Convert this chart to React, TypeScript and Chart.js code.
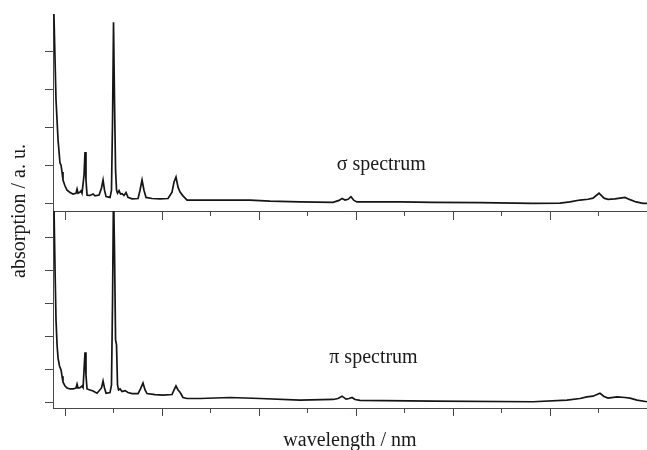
import React, { useEffect, useRef } from "react";
import { Chart, registerables } from "chart.js";

Chart.register(...registerables);

// wavelength axis (nm), tick marks
const majorTicks = [300, 400, 500, 600, 700, 800, 900];
const minorTicks = [350, 450, 550, 650, 750, 850];
const topYTicks = [0, 1, 2, 3, 4];
const botYTicks = [0, 1, 2, 3, 4, 5];

// σ spectrum
const sigmaWavelength = [
  287.6, 290.7, 292.8, 294.8, 295.9, 296.9, 297.9, 300, 302.1, 305.2, 308.2, 311.3, 312.4, 313.4,
  315.5, 316.5, 317.5, 319.6, 320.6, 321.6, 322.7, 325.8, 328.9, 330.9, 335.1, 337.6, 339.2, 340.7,
  342.3, 346.4, 347.9, 349, 350, 351, 352.1, 353.1, 354.1, 355.7, 357.2, 358.8, 360.8, 362.9, 364.9,
  369.1, 375.3, 377.3, 379.4, 381.4, 383.5, 389.7, 397.9, 406.2, 410.3, 412.4, 414.4, 416.5, 418.6,
  421.6, 425.8, 439.2, 470.1, 490.7, 511.3, 542.3, 576.3, 582.5, 585.6, 588.7, 591.8, 594.8, 597.9,
  601, 645.4, 679.4, 727.8, 782.5, 810.3, 820.6, 830.9, 839.2, 844.3, 850.5, 855.7, 859.8, 867,
  872.2, 877.3, 882.5, 888.7, 895.9, 900,
];
const sigmaValues = [
  6.0, 2.73, 1.67, 1.06, 1.0, 0.82, 0.61, 0.45, 0.34, 0.28, 0.24, 0.26, 0.37, 0.26,
  0.29, 0.32, 0.26, 0.74, 1.35, 0.61, 0.21, 0.2, 0.24, 0.19, 0.21, 0.4, 0.61, 0.34,
  0.17, 0.15, 0.34, 2.2, 4.78, 2.73, 0.87, 0.34, 0.26, 0.33, 0.24, 0.25, 0.2, 0.28, 0.15,
  0.11, 0.12, 0.34, 0.61, 0.34, 0.15, 0.12, 0.11, 0.12, 0.29, 0.56, 0.69, 0.42, 0.29,
  0.19, 0.08, 0.08, 0.08, 0.08, 0.05, 0.03, 0.02, 0.07, 0.12, 0.08, 0.1, 0.17, 0.07,
  0.03, 0.03, 0.02, 0.01, -0.01, 0.0, 0.03, 0.08, 0.1, 0.13, 0.26, 0.13, 0.1, 0.11,
  0.13, 0.15, 0.09, 0.03, -0.01, -0.01,
];

// π spectrum
const piWavelength = [
  287.6, 288.7, 289.7, 290.7, 291.8, 292.8, 294.3, 295.9, 296.9, 297.9, 300, 302.1, 305.2, 308.2,
  311.3, 312.4, 313.4, 315.5, 317.5, 318.6, 319.6, 320.6, 321.6, 322.7, 325.8, 328.9, 333, 337.6,
  339.2, 340.7, 342.3, 346.4, 347.9, 349, 350, 351, 352.1, 353.1, 354.1, 355.2, 356.7, 358.8,
  361.9, 364.9, 369.1, 375.3, 377.8, 380.4, 382.5, 384.5, 392.8, 401, 410.3, 412.4, 414.4, 416.5,
  418.6, 421.6, 425.8, 439.2, 470.1, 501, 542.3, 576.3, 581.4, 585.6, 589.7, 592.8, 595.9, 599,
  604.1, 679.4, 782.5, 817.5, 830.9, 838.1, 844.3, 851.5, 855.7, 859.8, 869.1, 877.3, 882.5,
  889.7, 900,
];
const piValues = [
  7.0, 5.79, 4.02, 2.5, 1.74, 1.34, 1.1, 0.98, 0.79, 0.61, 0.49, 0.43, 0.4, 0.4,
  0.43, 0.55, 0.43, 0.44, 0.49, 0.44, 0.98, 1.52, 0.82, 0.4, 0.37, 0.34, 0.27, 0.43,
  0.64, 0.43, 0.27, 0.29, 0.52, 3.11, 6.5, 4.63, 1.89, 1.74, 0.52, 0.37, 0.4, 0.32,
  0.35, 0.29, 0.26, 0.26, 0.4, 0.58, 0.37, 0.26, 0.23, 0.21, 0.23, 0.37, 0.49, 0.37,
  0.3, 0.14, 0.11, 0.11, 0.14, 0.11, 0.06, 0.08, 0.11, 0.18, 0.09, 0.11, 0.14, 0.08,
  0.05, 0.03, 0.01, 0.06, 0.11, 0.16, 0.18, 0.27, 0.17, 0.12, 0.16, 0.14, 0.12,
  0.06, 0.01,
];

const X_MIN = 287.6;
const X_MAX = 900;
const AXIS_COLOR = "#484848";
const TEXT_COLOR = "#1a1a1a";
const LINE_COLOR = "#151515";
const FONT_FAMILY = "'Liberation Serif', 'Times New Roman', serif";

const setTicks = (values: number[]) => (scale: any) => {
  scale.ticks = values.map((v) => ({ value: v }));
};

const hiddenXAxis = (pos: any, ticks: number[], len: number) => ({
  type: "linear",
  position: pos,
  min: X_MIN,
  max: X_MAX,
  afterBuildTicks: setTicks(ticks),
  ticks: { display: false },
  grid: { drawOnChartArea: false, drawTicks: true, tickLength: len, color: AXIS_COLOR, tickColor: AXIS_COLOR },
  border: { display: true, color: AXIS_COLOR, width: 1 },
});

const labelPlugin = {
  id: "spectrumLabels",
  afterDraw(chart: any) {
    const { ctx, scales } = chart;
    ctx.save();
    ctx.fillStyle = TEXT_COLOR;
    ctx.font = `20px ${FONT_FAMILY}`;
    ctx.textAlign = "center";
    ctx.textBaseline = "middle";
    ctx.fillText("σ spectrum", scales.x.getPixelForValue(626), scales.yTop.getPixelForValue(1.0));
    ctx.fillText("π spectrum", scales.x.getPixelForValue(618), scales.yBot.getPixelForValue(1.34));
    ctx.restore();
  },
};

export default function App() {
  const canvasRef = useRef<HTMLCanvasElement | null>(null);

  useEffect(() => {
    document.body.style.margin = "0";
    const canvas = canvasRef.current;
    if (!canvas) return;
    const sigmaData = sigmaWavelength.map((x, i) => ({ x, y: sigmaValues[i] }));
    const piData = piWavelength.map((x, i) => ({ x, y: piValues[i] }));

    const chart = new Chart(canvas, {
      type: "line",
      data: {
        datasets: [
          {
            label: "σ spectrum",
            data: sigmaData,
            xAxisID: "x",
            yAxisID: "yTop",
            borderColor: LINE_COLOR,
            borderWidth: 1.7,
            pointRadius: 0,
            tension: 0,
          },
          {
            label: "π spectrum",
            data: piData,
            xAxisID: "x",
            yAxisID: "yBot",
            borderColor: LINE_COLOR,
            borderWidth: 1.7,
            pointRadius: 0,
            tension: 0,
          },
        ],
      },
      plugins: [labelPlugin],
      options: {
        responsive: false,
        animation: false,
        events: [],
        layout: { padding: { top: 14, left: 0, right: 0, bottom: -1 } },
        plugins: { legend: { display: false }, tooltip: { enabled: false } },
        scales: {
          x: {
            ...hiddenXAxis("bottom", majorTicks, 8),
            title: {
              display: true,
              text: "wavelength / nm",
              color: TEXT_COLOR,
              font: { family: FONT_FAMILY, size: 20, lineHeight: 1.0 },
              padding: { top: 15, bottom: 0 },
            },
          },
          xBotMinor: hiddenXAxis({ yBot: -0.18 }, minorTicks, 4),
          xTopMajor: hiddenXAxis({ yTop: -0.21 }, majorTicks, 8),
          xTopMinor: hiddenXAxis({ yTop: -0.21 }, minorTicks, 4),
          yTitle: {
            type: "linear",
            position: "left",
            display: true,
            weight: 10,
            ticks: { display: false },
            grid: { display: false, drawTicks: false },
            border: { display: false },
            title: {
              display: true,
              text: "absorption / a. u.",
              color: TEXT_COLOR,
              font: { family: FONT_FAMILY, size: 20, lineHeight: 1.0 },
              padding: { top: 10, bottom: 15 },
            },
          },
          yTop: {
            type: "linear",
            position: "left",
            stack: "spectra",
            stackWeight: 1,
            weight: 2,
            min: -0.21,
            max: 5.0,
            afterBuildTicks: setTicks(topYTicks),
            ticks: { display: false },
            grid: { drawOnChartArea: false, drawTicks: true, tickLength: 8, color: AXIS_COLOR, tickColor: AXIS_COLOR },
            border: { display: true, color: AXIS_COLOR, width: 1 },
          },
          yBot: {
            type: "linear",
            position: "left",
            stack: "spectra",
            stackWeight: 1,
            weight: 1,
            min: -0.18,
            max: 5.82,
            afterBuildTicks: setTicks(botYTicks),
            ticks: { display: false },
            grid: { drawOnChartArea: false, drawTicks: true, tickLength: 8, color: AXIS_COLOR, tickColor: AXIS_COLOR },
            border: { display: true, color: AXIS_COLOR, width: 1 },
          },
        },
      } as any,
    });
    return () => chart.destroy();
  }, []);

  return (
    <div style={{ width: 647, height: 450, background: "#fff" }}>
      <canvas ref={canvasRef} width={647} height={450} style={{ display: "block" }} />
    </div>
  );
}
